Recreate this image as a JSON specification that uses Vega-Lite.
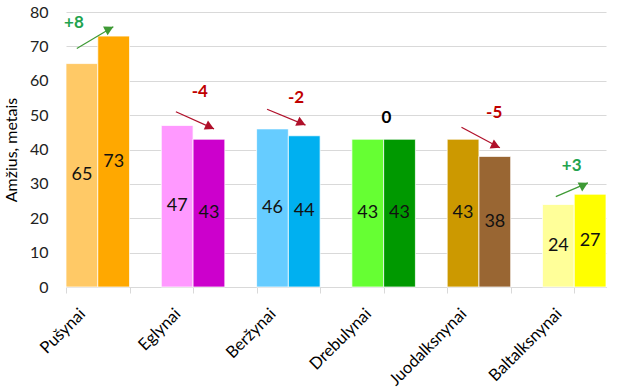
{
  "$schema": "https://vega.github.io/schema/vega-lite/v6.json",
  "width": 540,
  "height": 275,
  "autosize": "none",
  "padding": {"left": 66, "top": 12, "right": 21, "bottom": 104},
  "background": "white",
  "config": {
    "font": "Lato",
    "view": {"stroke": null},
    "axis": {"labelFont": "Lato", "titleFont": "Lato"}
  },
  "datasets": {
    "amzius": [
      {"kategorija": "Pušynai", "laikotarpis": "1", "serija": "Pušynai 1", "amzius": 65},
      {"kategorija": "Pušynai", "laikotarpis": "2", "serija": "Pušynai 2", "amzius": 73},
      {"kategorija": "Eglynai", "laikotarpis": "1", "serija": "Eglynai 1", "amzius": 47},
      {"kategorija": "Eglynai", "laikotarpis": "2", "serija": "Eglynai 2", "amzius": 43},
      {"kategorija": "Beržynai", "laikotarpis": "1", "serija": "Beržynai 1", "amzius": 46},
      {"kategorija": "Beržynai", "laikotarpis": "2", "serija": "Beržynai 2", "amzius": 44},
      {"kategorija": "Drebulynai", "laikotarpis": "1", "serija": "Drebulynai 1", "amzius": 43},
      {"kategorija": "Drebulynai", "laikotarpis": "2", "serija": "Drebulynai 2", "amzius": 43},
      {"kategorija": "Juodalksnynai", "laikotarpis": "1", "serija": "Juodalksnynai 1", "amzius": 43},
      {"kategorija": "Juodalksnynai", "laikotarpis": "2", "serija": "Juodalksnynai 2", "amzius": 38},
      {"kategorija": "Baltalksnynai", "laikotarpis": "1", "serija": "Baltalksnynai 1", "amzius": 24},
      {"kategorija": "Baltalksnynai", "laikotarpis": "2", "serija": "Baltalksnynai 2", "amzius": 27}
    ],
    "pokyciai": [
      {"pokytis": "+8", "zenklas": "teigiamas", "tx": 0.25, "ty": 76.7},
      {"pokytis": "-4", "zenklas": "neigiamas", "tx": 4.21, "ty": 56.6},
      {"pokytis": "-2", "zenklas": "neigiamas", "tx": 7.24, "ty": 54.9},
      {"pokytis": "0", "zenklas": "nulinis", "tx": 10.09, "ty": 49.2},
      {"pokytis": "-5", "zenklas": "neigiamas", "tx": 13.48, "ty": 50.5},
      {"pokytis": "+3", "zenklas": "teigiamas", "tx": 15.92, "ty": 35.1}
    ],
    "rodykles": [
      {"zenklas": "teigiamas", "kryptis": "up", "nuo": 0.34, "y1": 69.4, "iki": 1.49, "y2": 75.7},
      {"zenklas": "neigiamas", "kryptis": "down", "nuo": 3.46, "y1": 51.0, "iki": 4.66, "y2": 46.0},
      {"zenklas": "neigiamas", "kryptis": "down", "nuo": 6.33, "y1": 51.7, "iki": 7.54, "y2": 47.1},
      {"zenklas": "neigiamas", "kryptis": "down", "nuo": 12.45, "y1": 46.5, "iki": 13.66, "y2": 40.5},
      {"zenklas": "teigiamas", "kryptis": "up", "nuo": 15.42, "y1": 26.3, "iki": 16.43, "y2": 30.3}
    ]
  },
  "layer": [
    {
      "data": {"name": "amzius"},
      "mark": {"type": "bar", "stroke": "#FFFFFF", "strokeWidth": 0.75},
      "encoding": {
        "x": {
          "field": "kategorija", "type": "nominal", "sort": null,
          "scale": {"type": "band", "paddingInner": 0.3333, "paddingOuter": 0},
          "axis": {
            "orient": "bottom", "title": null, "bandPosition": 0.25,
            "ticks": false, "domain": false, "grid": false,
            "labelAngle": -45, "labelAlign": "right", "labelBaseline": "middle",
            "labelPadding": 24, "labelOffset": -15, "labelFontSize": 16.5, "labelColor": "#000000"
          }
        },
        "xOffset": {
          "field": "laikotarpis", "type": "nominal",
          "scale": {"type": "band", "paddingInner": 0, "paddingOuter": 0}
        },
        "y": {
          "field": "amzius", "type": "quantitative",
          "scale": {"domain": [0, 80], "nice": false},
          "axis": {
            "orient": "left", "title": "Amžius, metais",
            "values": [0, 10, 20, 30, 40, 50, 60, 70, 80],
            "grid": true, "gridColor": "#D9D9D9", "gridWidth": 1,
            "domain": false, "ticks": false,
            "labelPadding": 18, "labelFontSize": 16, "labelColor": "#222222",
            "titleFontSize": 16, "titleFontWeight": "normal", "titleColor": "#000000",
            "titlePadding": 10
          }
        },
        "color": {
          "field": "serija", "type": "nominal", "legend": null,
          "scale": {
            "domain": ["Pušynai 1", "Pušynai 2", "Eglynai 1", "Eglynai 2", "Beržynai 1", "Beržynai 2", "Drebulynai 1", "Drebulynai 2", "Juodalksnynai 1", "Juodalksnynai 2", "Baltalksnynai 1", "Baltalksnynai 2"],
            "range": ["#FFC966", "#FFA800", "#FF99FF", "#CC00CC", "#66CCFF", "#00B0F0", "#66FF33", "#009900", "#CC9900", "#996633", "#FFFF99", "#FFFF00"]
          }
        }
      }
    },
    {
      "data": {"name": "amzius"},
      "mark": {"type": "text", "fontSize": 18, "color": "#111111", "baseline": "middle", "align": "center"},
      "encoding": {
        "x": {
          "field": "kategorija", "type": "nominal", "sort": null,
          "scale": {"type": "band", "paddingInner": 0.3333, "paddingOuter": 0},
          "axis": null
        },
        "xOffset": {
          "field": "laikotarpis", "type": "nominal",
          "scale": {"type": "band", "paddingInner": 0, "paddingOuter": 0}
        },
        "y": {
          "field": "amzius", "type": "quantitative",
          "scale": {"domain": [0, 160], "nice": false},
          "axis": null
        },
        "text": {"field": "amzius", "type": "quantitative"}
      }
    },
    {
      "layer": [
        {
          "data": {"name": "rodykles"},
          "mark": {"type": "rule", "strokeWidth": 1.2},
          "encoding": {
            "x": {
              "field": "nuo", "type": "quantitative",
              "scale": {"domain": [0, 17], "nice": false, "zero": false},
              "axis": {
                "orient": "bottom", "title": null, "labels": false,
                "values": [0, 1, 2, 3, 4, 5, 6, 7, 8, 9, 10, 11, 12, 13, 14, 15, 16, 17],
                "ticks": true, "tickColor": "#D9D9D9", "tickSize": 6,
                "domain": true, "domainColor": "#D9D9D9", "grid": false
              }
            },
            "x2": {"field": "iki"},
            "y": {"field": "y1", "type": "quantitative", "scale": {"domain": [0, 80], "nice": false}, "axis": null},
            "y2": {"field": "y2"},
            "color": {
              "field": "zenklas", "type": "nominal", "legend": null,
              "scale": {"domain": ["teigiamas", "neigiamas", "nulinis"], "range": ["#3E9A35", "#B0102A", "#000000"]}
            }
          }
        },
        {
          "data": {"name": "rodykles"},
          "transform": [{"filter": "datum.kryptis === 'up'"}],
          "mark": {"type": "point", "shape": "M0,0L-0.5,0.9L0.5,0.9Z", "filled": true, "opacity": 1, "size": 400, "angle": 63, "strokeWidth": 0},
          "encoding": {
            "x": {"field": "iki", "type": "quantitative"},
            "y": {"field": "y2", "type": "quantitative"},
            "color": {
              "field": "zenklas", "type": "nominal", "legend": null,
              "scale": {"domain": ["teigiamas", "neigiamas", "nulinis"], "range": ["#3E9A35", "#B0102A", "#000000"]}
            }
          }
        },
        {
          "data": {"name": "rodykles"},
          "transform": [{"filter": "datum.kryptis === 'down'"}],
          "mark": {"type": "point", "shape": "M0,0L-0.5,0.9L0.5,0.9Z", "filled": true, "opacity": 1, "size": 400, "angle": 115, "strokeWidth": 0},
          "encoding": {
            "x": {"field": "iki", "type": "quantitative"},
            "y": {"field": "y2", "type": "quantitative"},
            "color": {
              "field": "zenklas", "type": "nominal", "legend": null,
              "scale": {"domain": ["teigiamas", "neigiamas", "nulinis"], "range": ["#3E9A35", "#B0102A", "#000000"]}
            }
          }
        },
        {
          "data": {"name": "pokyciai"},
          "mark": {"type": "text", "fontSize": 17, "fontWeight": "bold", "baseline": "middle", "align": "center"},
          "encoding": {
            "x": {"field": "tx", "type": "quantitative"},
            "y": {"field": "ty", "type": "quantitative"},
            "text": {"field": "pokytis", "type": "nominal"},
            "color": {
              "field": "zenklas", "type": "nominal", "legend": null,
              "scale": {"domain": ["teigiamas", "neigiamas", "nulinis"], "range": ["#22A34E", "#C00000", "#000000"]}
            }
          }
        }
      ],
      "resolve": {"scale": {"color": "independent"}}
    }
  ],
  "resolve": {"scale": {"x": "independent", "y": "independent", "color": "independent"}}
}
